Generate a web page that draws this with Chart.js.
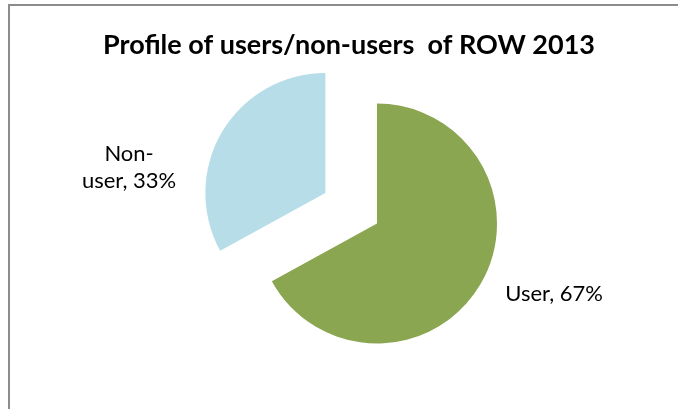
<!DOCTYPE html>
<html>
<head>
<meta charset="utf-8">
<script src="https://cdn.jsdelivr.net/npm/chart.js@4.4.1/dist/chart.umd.min.js"></script>
<style>
    html, body {
        margin: 0;
        padding: 0;
        background: #fff;
    }
    #wrap {
        position: relative;
        width: 678px;
        height: 409px;
        overflow: hidden;
    }
    #frame {
        position: absolute;
        left: 8px;
        top: 4px;
        width: 720px;
        height: 460px;
        border-left: 2px solid #8c8c8c;
        border-top: 2px solid #8c8c8c;
    }
    #chart {
        position: absolute;
        left: 0;
        top: 0;
    }
</style>
</head>
<body>
<div id="wrap">
    <div id="frame"></div>
    <canvas id="chart" width="678" height="409"></canvas>
</div>
<script>
    const chartTitle = 'Profile of users/non-users  of ROW 2013';
    const categories = ['User', 'Non-user'];
    const shares = [67, 33];
    const sliceColors = ['#8ba650', '#b7dde8'];
    const explodeBy = [0, 60];

    // pulls slices away from the centre along their middle angle
    const explode = {
        id: 'explode',
        afterDatasetsUpdate(chart, args, opts) {
            chart.getDatasetMeta(0).data.forEach((arc, i) => {
                let d = opts.distance[i] || 0,
                    mid = (arc.startAngle + arc.endAngle) / 2;
                arc.x += Math.cos(mid) * d;
                arc.y += Math.sin(mid) * d;
            });
        }
    };

    // title drawn by hand so it can sit off the pie's centre line
    const headline = {
        id: 'headline',
        afterDraw(chart, args, opts) {
            let ctx = chart.ctx;
            ctx.save();
            ctx.font = opts.font;
            ctx.fillStyle = opts.color;
            ctx.textAlign = 'center';
            ctx.textBaseline = 'alphabetic';
            ctx.fillText(opts.text, opts.x, opts.y);
            ctx.restore();
        }
    };

    // writes "Name, NN%" beside each slice, wrapping long ones after the hyphen
    const sliceLabels = {
        id: 'sliceLabels',
        afterDatasetsDraw(chart, args, opts) {
            let ctx = chart.ctx,
                meta = chart.getDatasetMeta(0),
                values = chart.data.datasets[0].data;
            ctx.save();
            ctx.font = opts.font;
            ctx.fillStyle = opts.color;
            ctx.textBaseline = 'alphabetic';
            meta.data.forEach((arc, i) => {
                let text = chart.data.labels[i] + ', ' + values[i] + '%',
                    lines = [text];
                if (ctx.measureText(text).width > opts.maxWidth && text.indexOf('-') > 0) {
                    let cut = text.indexOf('-') + 1;
                    lines = [text.slice(0, cut), text.slice(cut)];
                }
                let mid = (arc.startAngle + arc.endAngle) / 2,
                    shift = opts.shift[i],
                    x = arc.x + Math.cos(mid) * arc.outerRadius + shift.x,
                    y = arc.y + Math.sin(mid) * arc.outerRadius + shift.y;
                ctx.textAlign = shift.align;
                lines.forEach((line, k) => ctx.fillText(line, x, y + k * opts.lineHeight));
            });
            ctx.restore();
        }
    };

    new Chart(document.getElementById('chart'), {
        type: 'pie',
        data: {
            labels: categories,
            datasets: [{
                data: shares,
                backgroundColor: sliceColors,
                borderWidth: 0
            }]
        },
        options: {
            responsive: false,
            animation: false,
            radius: 120,
            layout: {
                padding: {left: 76, right: 0, top: 72, bottom: 34}
            },
            plugins: {
                legend: {display: false},
                tooltip: {enabled: false},
                explode: {distance: explodeBy},
                headline: {
                    text: chartTitle,
                    font: 'bold 27px Lato, sans-serif',
                    color: '#000',
                    x: 349,
                    y: 54
                },
                sliceLabels: {
                    font: '22px Lato, sans-serif',
                    color: '#000',
                    lineHeight: 27,
                    maxWidth: 110,
                    shift: [
                        {x: 25, y: 16, align: 'left'},
                        {x: -93, y: 29, align: 'center'}
                    ]
                }
            }
        },
        plugins: [explode, headline, sliceLabels]
    });
</script>
</body>
</html>
